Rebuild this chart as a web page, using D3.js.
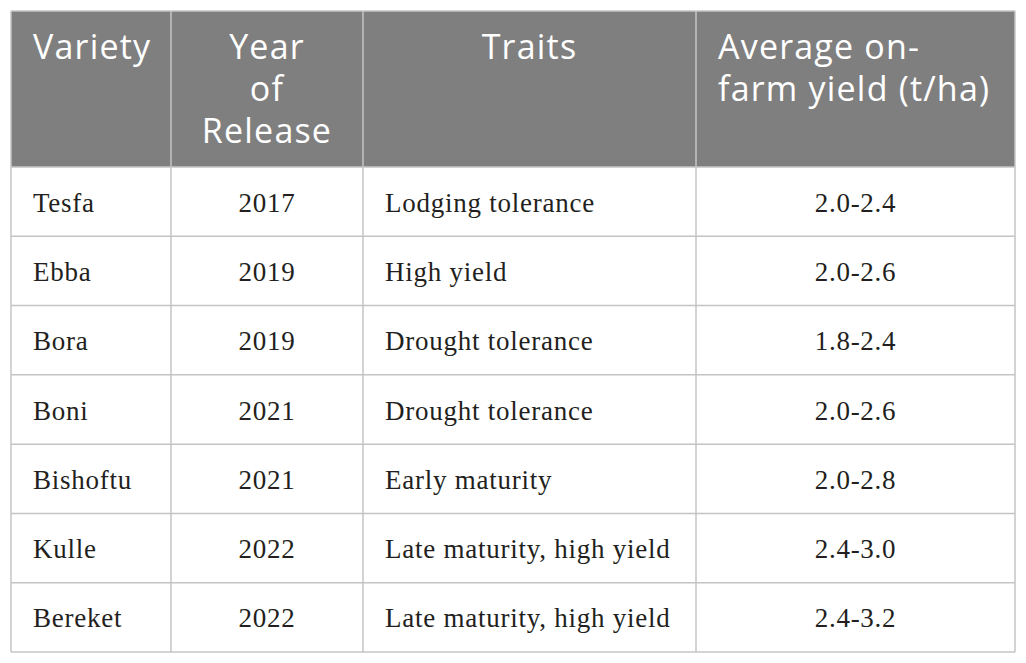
<!DOCTYPE html>
<html><head><meta charset="utf-8">
<script src="https://cdn.jsdelivr.net/npm/d3@7"></script>
<style>html,body{margin:0;padding:0;background:#fff;}</style>
</head><body>
<svg id="chart" width="1026" height="663"></svg>
<script>
const headers = [["Variety"], ["Year", "of", "Release"], ["Traits"], ["Average on-", "farm yield (t/ha)"]];
const varieties = ["Tesfa", "Ebba", "Bora", "Boni", "Bishoftu", "Kulle", "Bereket"];
const years = ["2017", "2019", "2019", "2021", "2021", "2022", "2022"];
const traits = ["Lodging tolerance", "High yield", "Drought tolerance", "Drought tolerance", "Early maturity", "Late maturity, high yield", "Late maturity, high yield"];
const yields = ["2.0-2.4", "2.0-2.6", "1.8-2.4", "2.0-2.6", "2.0-2.8", "2.4-3.0", "2.4-3.2"];

const colEdges = [11, 171, 363, 696, 1015];
const colAlign = ["start", "middle", "start", "middle"];
const headAlign = ["start", "middle", "middle", "start"];
const pad = 22;
const tableTop = 11, headBottom = 167, tableBottom = 652;

const svg = d3.select("#chart");
const rowScale = d3.scaleBand().domain(d3.range(varieties.length)).range([headBottom, tableBottom]);
const rows = varieties.map((v, i) => [v, years[i], traits[i], yields[i]]);

svg.append("rect").attr("x", colEdges[0]).attr("y", tableTop)
  .attr("width", colEdges[4] - colEdges[0]).attr("height", headBottom - tableTop).attr("fill", "#7f7f7f");

function xFor(c, align) {
  return align === "start" ? colEdges[c] + pad : (colEdges[c] + colEdges[c + 1]) / 2;
}

headers.forEach((lines, c) => {
  const t = svg.append("text").attr("fill", "#fff")
    .attr("font-family", "'Open Sans', sans-serif").attr("font-size", 34)
    .attr("letter-spacing", 1.2)
    .attr("text-anchor", headAlign[c]);
  lines.forEach((ln, k) => {
    t.append("tspan").attr("x", xFor(c, headAlign[c])).attr("y", 59 + k * 42).text(ln);
  });
});

rows.forEach((r, i) => {
  r.forEach((val, c) => {
    svg.append("text").attr("x", xFor(c, colAlign[c]))
      .attr("y", rowScale(i) + rowScale.bandwidth() / 2 + 10)
      .attr("text-anchor", colAlign[c])
      .attr("font-family", "'Liberation Serif', serif").attr("font-size", 27)
      .attr("letter-spacing", 0.75)
      .attr("fill", "#231f20").text(val);
  });
});

const lineColor = "#c4c4c4";
svg.selectAll("line.h").data([tableTop, headBottom, ...d3.range(1, varieties.length).map(i => rowScale(i)), tableBottom])
  .join("line").attr("class", "h")
  .attr("x1", colEdges[0]).attr("x2", colEdges[4]).attr("y1", d => d).attr("y2", d => d)
  .attr("stroke", lineColor).attr("stroke-width", 1.5);
svg.selectAll("line.v").data(colEdges)
  .join("line").attr("class", "v")
  .attr("x1", d => d).attr("x2", d => d).attr("y1", tableTop).attr("y2", tableBottom)
  .attr("stroke", lineColor).attr("stroke-width", 1.5);
</script>
</body></html>
